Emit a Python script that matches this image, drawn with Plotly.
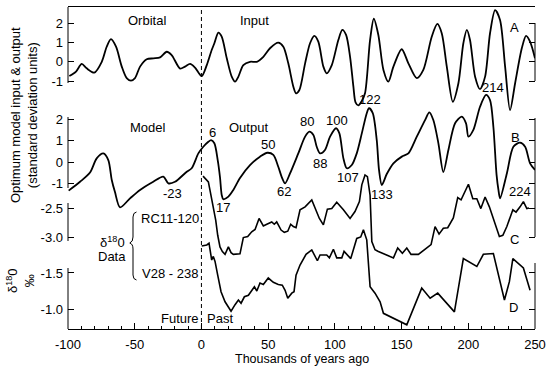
import plotly.graph_objects as go

# ---------------- data ----------------
a_ka = [-99, -94, -89.7, -86, -80.3, -74.7, -71, -67.8, -64, -59.7, -56, -52.8, -49.8, -46, -41, -36, -31, -26,
        -22.3, -16, -12.3, -8.5, -4.8, 0.2, 4.0, 7.7, 9.7, 12.7, 15.2, 19.0, 22.7, 25.2, 27.7, 31.4, 36.4, 41.5,
        46.4, 51.4, 57.6, 61.4, 65.1, 68.9, 70.9, 73.4, 77.7, 81.4, 84.6, 87.6, 91.4, 93.9, 97.7, 102.6, 105.6,
        108.4, 111.4, 113.9, 115.5, 117.6, 120.0, 122.6, 126.4, 129.2, 132.6, 136.4, 140.1, 143.9, 150.1, 155.1,
        161.4, 166.3, 172.6, 176.8, 180.1, 183.9, 188.4, 192.6, 196.3, 198.9, 201.3, 205.1, 208.8, 212.6, 216.3,
        220.1, 223.8, 227.6, 231.3, 235.1, 240.1, 243.3, 246.3, 250]
a_val = [-0.74, -0.51, -0.11, -0.34, -0.56, 0.0, 0.78, 1.17, 0.78, -0.25, -0.85, -0.98, -0.85, -0.25, 0.13, 0.18,
         0.23, 0.52, 0.35, -0.35, -0.25, -0.11, -0.3, -0.74, -0.17, 0.61, 0.96, 1.51, 1.30, 0.18, -0.77, -1.03,
         -0.77, -0.17, 0.0, 0.0, 0.26, 0.70, 0.99, 0.78, -0.08, -1.29, -1.63, -1.46, -0.08, 0.96, 1.34, 1.04,
         -0.25, -0.60, -0.17, 1.13, 1.65, 1.39, 0.26, -1.29, -2.1, -2.26, -2.05, -1.63, 1.13, 2.23, 1.39, -0.42,
         -1.03, -0.25, 0.65, -0.08, -0.85, -0.42, 1.30, 1.96, 1.48, -0.25, -2.07, -1.11, 0.96, 1.65, 1.13, -0.77,
         -1.42, -0.77, 1.48, 2.68, 2.17, -0.25, -2.50, -1.11, 0.70, 1.34, 1.04, 0.18]

b_ka = [-99.5, -91.0, -83.5, -78.5, -73.5, -69.8, -67.2, -64.8, -61.0, -53.5, -46.0, -36.1, -28.6, -24.8, -19.8,
        -11.0, -7.3, -2.3, 1.4, 5.2, 7.2, 9.7, 12.2, 13.9, 15.2, 16.4, 20.2, 23.9, 28.9, 36.4, 43.9, 49.4, 53.9,
        57.6, 60.2, 62.7, 66.4, 72.6, 77.7, 80.9, 83.9, 86.4, 88.9, 92.6, 96.4, 100.9, 103.4, 106.4, 108.9, 112.7,
        116.4, 120.2, 123.9, 125.6, 128.4, 131.4, 133.1, 135.2, 138.9, 143.9, 150.2, 155.1, 161.4, 167.6, 170.8,
        173.8, 177.6, 181.3, 185.1, 190.1, 195.1, 198.3, 200.1, 203.8, 208.8, 213.3, 216.3, 218.8, 221.2, 222.6,
        223.8, 228.9, 233.8, 238.8, 242.6, 246.3, 250]
b_val = [-1.33, -0.92, -0.49, 0.17, 0.40, 0.09, -0.84, -1.40, -2.11, -1.69, -1.30, -0.92, -0.68, -0.99, -0.92,
         -0.45, -0.29, 0.40, 0.71, 0.94, 1.02, 0.87, 0.09, -0.70, -1.53, -1.73, -1.61, -1.30, -0.74, -0.14, 0.25,
         0.43, 0.33, -0.22, -0.70, -0.99, -0.53, 0.40, 1.18, 1.41, 1.26, 0.71, 0.40, 0.56, 1.18, 1.57, 1.33, 0.17,
         -0.29, -0.14, 0.40, 1.33, 2.27, 2.50, 2.27, 1.02, -0.37, -1.07, -0.56, -0.06, 0.25, 0.40, 1.18, 1.95,
         2.31, 1.95, 0.87, -0.47, 0.56, 1.80, 2.11, 1.80, 1.18, 1.49, 2.57, 3.12, 2.88, 1.64, -0.60, -1.30, -1.69,
         -0.53, 0.71, 0.90, 0.71, -0.06, -0.37]

c_ka = [1.2, 5.2, 6.4, 7.7, 8.9, 10.7, 12.2, 13.9, 15.7, 17.7, 20.2, 22.2, 23.9, 28.9, 31.4, 34.7, 37.7, 40.2,
        43.2, 46.4, 49.0, 52.7, 54.6, 56.4, 59.7, 62.1, 64.7, 66.9, 68.9, 70.9, 73.9, 77.7, 82.7, 85.2, 88.4,
        91.4, 94.4, 97.7, 101.4, 106.4, 111.4, 115.1, 118.4, 120.2, 122.6, 124.4, 126.4, 127.7, 130.1, 132.6,
        143.9, 147.1, 150.6, 153.9, 157.1, 162.6, 167.1, 172.1, 175.1, 178.1, 181.3, 184.6, 188.8, 192.1, 194.6,
        200.1, 203.4, 206.4, 209.4, 212.6, 215.8, 218.8, 223.3, 225.9, 228.9, 233.4, 235.8, 238.8, 241.3, 243.9,
        245.5]
c_val = [-1.95, -2.05, -2.19, -2.33, -2.51, -2.71, -2.97, -3.17, -3.25, -3.30, -3.17, -3.27, -3.30, -3.29, -3.01,
         -2.99, -2.91, -2.87, -2.68, -2.81, -2.78, -2.74, -2.78, -2.74, -2.88, -2.92, -2.90, -2.78, -2.82, -2.84,
         -2.53, -2.48, -2.36, -2.51, -2.68, -2.79, -2.52, -2.51, -2.40, -2.53, -2.68, -2.56, -2.39, -2.10, -1.93,
         -1.96, -2.28, -3.08, -3.22, -3.25, -3.36, -3.19, -3.28, -3.19, -3.30, -3.30, -3.22, -3.13, -2.82, -2.95,
         -2.85, -2.84, -2.67, -2.32, -2.36, -2.09, -2.34, -2.34, -2.51, -2.31, -2.48, -2.68, -2.99, -2.97, -2.82,
         -2.53, -2.57, -2.48, -2.39, -2.51, -2.50]

d_ka = [0.2, 4.0, 5.7, 7.7, 8.9, 10.2, 12.2, 14.7, 17.7, 22.2, 25.2, 27.7, 29.7, 32.2, 35.2, 37.2, 39.7, 41.5,
        43.9, 46.4, 50.1, 53.9, 57.6, 60.6, 62.7, 64.7, 67.7, 69.4, 70.9, 73.9, 78.4, 82.7, 86.9, 88.9, 93.9,
        95.9, 98.9, 101.4, 105.2, 106.9, 111.9, 116.4, 119.4, 121.4, 123.9, 126.4, 130.1, 133.9, 136.4, 153.9,
        165.1, 171.4, 177.1, 189.6, 196.3, 206.4, 211.3, 218.8, 227.1, 230.8, 233.4, 241.3, 246.3]
d_val = [-1.875, -1.889, -1.913, -1.68, -1.73, -1.66, -1.47, -1.24, -1.10, -0.97, -1.06, -1.125, -1.08, -1.17,
         -1.19, -1.24, -1.31, -1.25, -1.36, -1.34, -1.43, -1.37, -1.34, -1.33, -1.26, -1.15, -1.22, -1.24, -1.47,
         -1.61, -1.76, -1.82, -1.67, -1.75, -1.75, -1.71, -1.83, -1.71, -1.71, -1.80, -1.70, -1.98, -2.00, -2.10,
         -1.96, -1.31, -1.22, -1.10, -0.94, -0.78, -1.29, -1.15, -1.22, -0.96, -1.70, -1.59, -1.76, -1.77, -1.125,
         -1.38, -1.70, -1.57, -1.26]

x_ticks = [-100, -50, 0, 50, 100, 150, 200, 250]
x_ticktext = ["-100", "-50", "0", "50", "100", "150", "200", "250"]
a_ticks = [2, 1, 0, -1]
a_ticktext = ["2", "1", "0", "-1"]
b_ticks = [2, 1, 0, -1]
b_ticktext = ["2", "1", "0", "-1"]
c_ticks = [-2.5, -3.0]
c_ticktext = ["-2.5", "-3.0"]
d_ticks = [-1.5, -1.0]
d_ticktext = ["-1.5", "-1.0"]

# ---------------- layout helpers ----------------
W, H = 550, 368
L, R, T, B = 68, 535, 7, 329
FONT = "Liberation Sans, Arial, Helvetica, sans-serif"


def fx(x):
    return (x - L) / (R - L)


def fy(y):
    return (B - y) / (B - T)


fig = go.Figure()
line_s = dict(color="black", width=1.8, shape="spline", smoothing=0.8)
line_l = dict(color="black", width=1.6)
fig.add_trace(go.Scatter(x=a_ka, y=a_val, mode="lines", line=line_s, yaxis="y", hoverinfo="skip"))
fig.add_trace(go.Scatter(x=b_ka, y=b_val, mode="lines", line=line_s, yaxis="y2", hoverinfo="skip"))
fig.add_trace(go.Scatter(x=c_ka, y=c_val, mode="lines", line=line_l, yaxis="y3", hoverinfo="skip"))
fig.add_trace(go.Scatter(x=d_ka, y=d_val, mode="lines", line=line_l, yaxis="y4", hoverinfo="skip"))

ycommon = dict(domain=[0, 1], showgrid=False, zeroline=False, showline=False, ticks="inside", ticklen=6,
               tickwidth=1, tickcolor="black", mirror="ticks", tickmode="array",
               tickfont=dict(family=FONT, size=13, color="black"), ticklabelstandoff=4, fixedrange=True)

fig.update_layout(
    width=W, height=H, margin=dict(l=L, r=W - R, t=T, b=H - B, autoexpand=False),
    paper_bgcolor="white", plot_bgcolor="white", showlegend=False,
    font=dict(family=FONT, size=13, color="black"),
    xaxis=dict(range=[-100, 250], showgrid=False, zeroline=False, showline=True, linecolor="black", linewidth=1,
               mirror=True, ticks="inside", ticklen=6, tickwidth=1, tickcolor="black", tickmode="array",
               tickvals=x_ticks, ticktext=x_ticktext, tickfont=dict(family=FONT, size=13, color="black"),
               ticklabelstandoff=3, fixedrange=True,
               minor=dict(ticks="inside", ticklen=3, tickwidth=1, tickcolor="black", dtick=10, tick0=0,
                          showgrid=False)),
    yaxis=dict(range=[-13.845, 2.839], tickvals=a_ticks, ticktext=a_ticktext, **ycommon),
    yaxis2=dict(range=[-7.767, 7.209], tickvals=b_ticks, ticktext=b_ticktext, overlaying="y", side="left",
                **ycommon),
    yaxis3=dict(range=[-4.586, 0.9655], tickvals=c_ticks, ticktext=c_ticktext, overlaying="y", side="left",
                **ycommon),
    yaxis4=dict(range=[-0.7222, -5.194], tickvals=d_ticks, ticktext=d_ticktext, overlaying="y", side="left",
                **ycommon),
)

shapes = []
# axis line segments (pixel spans)
for xs, y0, y1 in [(0, 7, 83), (0, 117, 188), (0, 203, 241), (0, 268, 329),
                   (1, 23, 81), (1, 118, 237), (1, 263, 329)]:
    shapes.append(dict(type="line", xref="paper", yref="paper", x0=xs, x1=xs, y0=fy(y0), y1=fy(y1),
                       line=dict(color="black", width=1)))
# dashed present-day line
shapes.append(dict(type="line", xref="x", yref="paper", x0=0, x1=0, y0=0, y1=1,
                   line=dict(color="black", width=1, dash="4px,3px")))
# brace
pts = [("M", [(136.5, 212)]), ("Q", [(133, 212.5), (133, 217)]), ("L", [(133, 237)]),
       ("Q", [(133, 242), (129.8, 243)]), ("Q", [(133, 244), (133, 249)]), ("L", [(133, 275)]),
       ("Q", [(133, 279.5), (136.5, 280)])]
path = " ".join(cmd + " " + " ".join(f"{fx(x):.5f},{fy(y):.5f}" for x, y in p) for cmd, p in pts)
shapes.append(dict(type="path", xref="paper", yref="paper", path=path, line=dict(color="black", width=1)))
fig.update_layout(shapes=shapes)

ann = []


def text(t, x, y, size=13, angle=0, xanchor="center"):
    ann.append(dict(text=t, x=fx(x), y=fy(y), xref="paper", yref="paper", showarrow=False, xanchor=xanchor,
                    yanchor="middle", textangle=angle, font=dict(family=FONT, size=size, color="black")))


text("Orbital", 147, 20)
text("Input", 254, 20)
text("A", 514, 28)
text("Model", 148, 127)
text("Output", 248, 127)
text("B", 515, 137)
text("C", 514, 239)
text("D", 513, 307)
text("6", 212, 132)
text("50", 268, 144)
text("80", 307, 122)
text("100", 337, 120)
text("88", 320, 163)
text("107", 348, 178)
text("122", 370, 99)
text("214", 493, 87)
text("-23", 172, 193)
text("17", 223, 207)
text("62", 284, 191)
text("133", 382, 194)
text("224", 520, 192)
text("RC11-120", 139, 218, xanchor="left")
text("V28 - 238", 140, 273, xanchor="left")
text("δ<sup>18</sup>0", 112, 242)
text("Data", 112, 256)
text("Future", 180, 318)
text("Past", 220, 318)
text("Thousands of years ago", 302, 358.5, size=12.5)
text("Optimum model input & output<br>(standard deviation units)", 24, 115, angle=-90)
text("δ<sup>18</sup>0<br>‰", 20, 281, angle=-90)
fig.update_layout(annotations=ann)

fig.write_html("out.html", config={"staticPlot": True},
               post_script="document.body.style.margin='0px';document.body.style.padding='0px';")
